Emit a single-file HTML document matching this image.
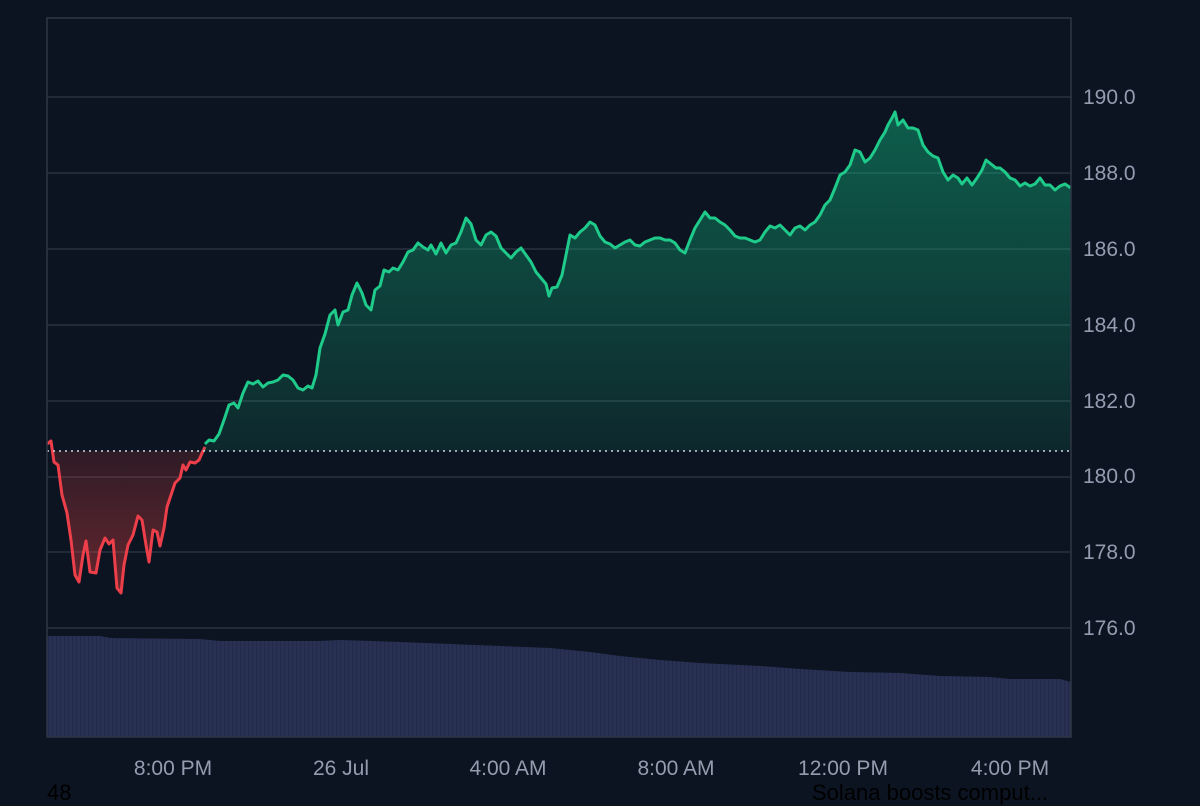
<!DOCTYPE html>
<html><head><meta charset="utf-8"><style>
html,body{margin:0;padding:0;background:#0d1421;width:1200px;height:800px;overflow:hidden;font-family:"Liberation Sans",sans-serif;}
svg{position:absolute;left:0;top:0}
.b{position:absolute;color:#000;font-size:22px;}
</style></head><body>
<svg width="1200" height="800" viewBox="0 0 1200 800">
<defs>
<linearGradient id="g" x1="0" y1="110" x2="0" y2="451" gradientUnits="userSpaceOnUse">
<stop offset="0" stop-color="#10b981" stop-opacity="0.45"/><stop offset="1" stop-color="#10b981" stop-opacity="0.12"/></linearGradient>
<linearGradient id="r" x1="0" y1="451" x2="0" y2="595" gradientUnits="userSpaceOnUse">
<stop offset="0" stop-color="#ef4444" stop-opacity="0.15"/><stop offset="1" stop-color="#ef4444" stop-opacity="0.4"/></linearGradient>
<pattern id="vp" width="4" height="10" patternUnits="userSpaceOnUse"><rect width="4" height="10" fill="#283154"/><rect width="1" height="10" fill="#222a48"/></pattern>
</defs>
<g stroke="#2a3243" stroke-width="1.5">
<line x1="47" y1="97" x2="1071" y2="97"/><line x1="47" y1="173" x2="1071" y2="173"/><line x1="47" y1="249" x2="1071" y2="249"/><line x1="47" y1="325" x2="1071" y2="325"/><line x1="47" y1="401" x2="1071" y2="401"/><line x1="47" y1="477" x2="1071" y2="477"/><line x1="47" y1="552" x2="1071" y2="552"/><line x1="47" y1="628" x2="1071" y2="628"/>
</g>
<polygon fill="url(#vp)" points="47,737 47,636 100,636 110,638 200,639 220,641 320,641 340,640 400,642 450,644 500,646 550,648 590,652 620,656 660,660 700,663 760,666 800,669 850,672 900,673 940,676 990,677 1010,679 1060,679 1071,682 1071,737"/>
<polygon fill="url(#r)" points="47,451 51,451 54,462 58,465 62,495 67,513 71,540 75,575 79,582 83,555 86,541 90,572 96,573 100,550 105,538 109,544 113,540 117,588 121,593 124,565 128,545 133,535 138,516 142,520 146,545 149,562 153,530 157,532 160,546 164,528 167,507 171,495 175,483 180,478 183,465 186,470 190,462 195,463 199,460 203,451"/>
<polyline fill="none" stroke="#ec3f4a" stroke-width="3" stroke-linejoin="round" points="47,444 51,441 54,462 58,465 62,495 67,513 71,540 75,575 79,582 83,555 86,541 90,572 96,573 100,550 105,538 109,544 113,540 117,588 121,593 124,565 128,545 133,535 138,516 142,520 146,545 149,562 153,530 157,532 160,546 164,528 167,507 171,495 175,483 180,478 183,465 186,470 190,462 195,463 199,460 203,451 205,447"/>
<polygon fill="url(#g)" points="203,451 205,444 209,440 214,441 219,434 224,420 229,405 234,403 238,408 243,393 248,382 253,384 258,381 263,387 268,383 273,382 278,380 283,375 288,376 293,380 298,388 303,390 308,386 312,388 316,375 320,348 325,334 330,315 335,310 338,325 343,312 348,310 352,295 357,283 362,293 366,305 371,310 375,290 380,286 384,270 389,272 393,268 398,270 403,262 408,252 413,250 418,243 423,247 428,250 431,245 436,254 441,243 446,253 451,245 456,243 461,232 466,218 471,224 476,240 481,245 486,235 491,232 496,236 501,248 506,253 511,258 516,252 521,248 526,255 531,262 536,272 541,278 546,284 549,296 552,288 557,287 562,275 566,255 570,235 575,238 580,232 585,228 590,222 595,225 600,236 605,242 610,244 615,248 620,245 625,242 630,240 635,245 640,246 645,242 650,240 655,238 660,238 665,240 670,240 675,243 680,250 685,253 690,240 695,228 700,220 705,212 710,218 715,218 720,222 725,225 730,230 735,236 740,238 745,238 750,240 755,242 760,240 765,232 770,226 775,228 780,225 785,230 790,235 795,228 800,226 805,230 810,225 815,222 820,215 825,205 830,200 835,188 840,175 845,172 850,165 855,150 860,152 865,162 870,158 875,150 880,140 885,132 888,125 892,118 895,112 898,125 903,120 908,128 913,128 918,130 923,145 928,152 933,156 938,158 943,172 948,180 953,175 958,178 962,184 967,178 972,185 977,178 982,170 986,160 991,164 996,168 1000,168 1005,172 1010,178 1015,180 1020,186 1025,183 1030,186 1035,184 1040,178 1045,185 1050,185 1055,190 1060,186 1065,184 1071,188 1071,451"/>
<polyline fill="none" stroke="#1fcb8a" stroke-width="3" stroke-linejoin="round" points="205,444 209,440 214,441 219,434 224,420 229,405 234,403 238,408 243,393 248,382 253,384 258,381 263,387 268,383 273,382 278,380 283,375 288,376 293,380 298,388 303,390 308,386 312,388 316,375 320,348 325,334 330,315 335,310 338,325 343,312 348,310 352,295 357,283 362,293 366,305 371,310 375,290 380,286 384,270 389,272 393,268 398,270 403,262 408,252 413,250 418,243 423,247 428,250 431,245 436,254 441,243 446,253 451,245 456,243 461,232 466,218 471,224 476,240 481,245 486,235 491,232 496,236 501,248 506,253 511,258 516,252 521,248 526,255 531,262 536,272 541,278 546,284 549,296 552,288 557,287 562,275 566,255 570,235 575,238 580,232 585,228 590,222 595,225 600,236 605,242 610,244 615,248 620,245 625,242 630,240 635,245 640,246 645,242 650,240 655,238 660,238 665,240 670,240 675,243 680,250 685,253 690,240 695,228 700,220 705,212 710,218 715,218 720,222 725,225 730,230 735,236 740,238 745,238 750,240 755,242 760,240 765,232 770,226 775,228 780,225 785,230 790,235 795,228 800,226 805,230 810,225 815,222 820,215 825,205 830,200 835,188 840,175 845,172 850,165 855,150 860,152 865,162 870,158 875,150 880,140 885,132 888,125 892,118 895,112 898,125 903,120 908,128 913,128 918,130 923,145 928,152 933,156 938,158 943,172 948,180 953,175 958,178 962,184 967,178 972,185 977,178 982,170 986,160 991,164 996,168 1000,168 1005,172 1010,178 1015,180 1020,186 1025,183 1030,186 1035,184 1040,178 1045,185 1050,185 1055,190 1060,186 1065,184 1071,188"/>
<line x1="47" y1="451" x2="1071" y2="451" stroke="#cfd6e0" stroke-width="1.5" stroke-dasharray="2,4"/>
<rect x="47" y="18" width="1024" height="719" fill="none" stroke="#2e3646" stroke-width="1.5"/>
<g fill="#949cb0" font-size="21" font-family="Liberation Sans, sans-serif">
<text x="1083" y="104">190.0</text><text x="1083" y="180">188.0</text><text x="1083" y="256">186.0</text><text x="1083" y="332">184.0</text><text x="1083" y="408">182.0</text><text x="1083" y="483">180.0</text><text x="1083" y="559">178.0</text><text x="1083" y="635">176.0</text>
<g text-anchor="middle"><text x="173" y="775">8:00 PM</text><text x="341" y="775">26 Jul</text><text x="508" y="775">4:00 AM</text><text x="676" y="775">8:00 AM</text><text x="843" y="775">12:00 PM</text><text x="1010" y="775">4:00 PM</text></g>
</g>
</svg>
<div class="b" style="left:47px;top:780px">48</div>
<div class="b" style="left:812px;top:780px">Solana boosts comput...</div>
</body></html>
